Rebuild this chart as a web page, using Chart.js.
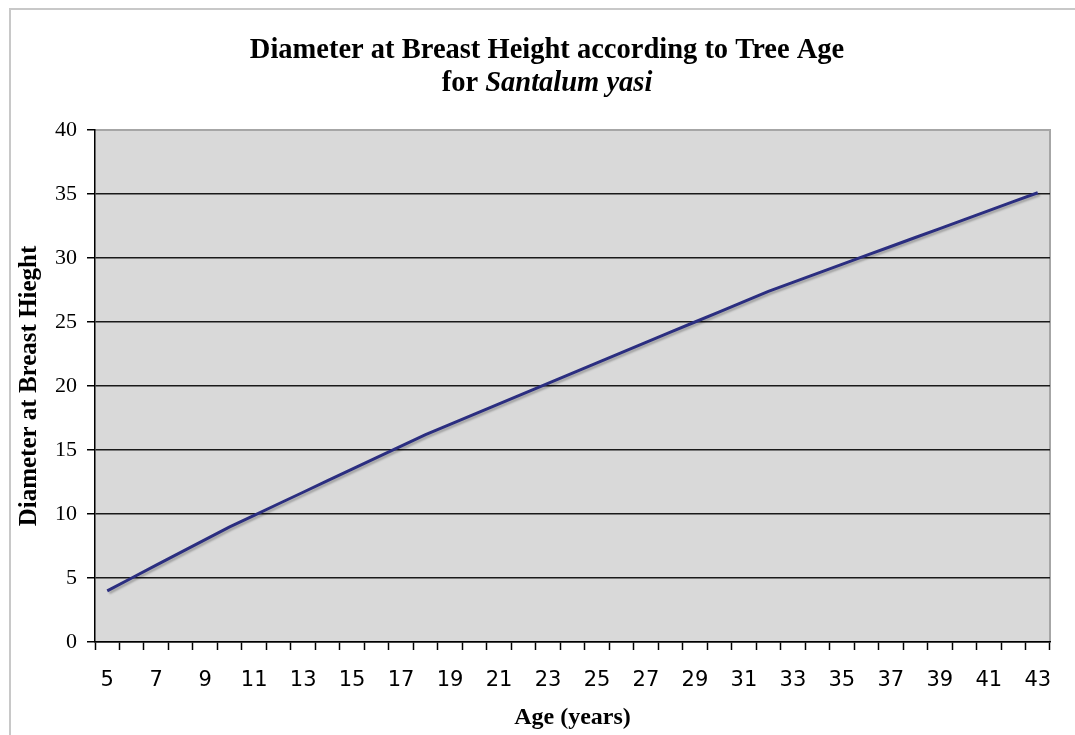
<!DOCTYPE html>
<html>
<head>
<meta charset="utf-8">
<script src="https://cdn.jsdelivr.net/npm/chart.js@4"></script>
<style>
  html, body { margin: 0; padding: 0; background: #fff; }
  #wrap { position: relative; width: 1075px; height: 735px; overflow: hidden; }
  #frame { position: absolute; left: 9px; top: 8px; width: 1100px; height: 800px;
           border-left: 2px solid #c8c8c8; border-top: 2px solid #c8c8c8; }
  canvas { position: absolute; left: 0; top: 0; }
</style>
</head>
<body>
<div id="wrap">
  <div id="frame"></div>
  <canvas id="dbhChart" width="1075" height="735"></canvas>
</div>
<script>
// tree age (years)
const ages = [5, 6, 7, 8, 9, 10, 11, 12, 13, 14, 15, 16, 17, 18, 19, 20, 21, 22, 23, 24,
  25, 26, 27, 28, 29, 30, 31, 32, 33, 34, 35, 36, 37, 38, 39, 40, 41, 42, 43];
// diameter at breast height
const dbh = [4.0, 5.0, 6.0, 7.0, 8.0, 9.0, 9.9, 10.8, 11.7, 12.6, 13.5, 14.4, 15.3, 16.2,
  17.0, 17.8, 18.6, 19.4, 20.2, 21.0, 21.8, 22.6, 23.4, 24.2, 25.0, 25.8, 26.6, 27.4,
  28.1, 28.8, 29.5, 30.2, 30.9, 31.6, 32.3, 33.0, 33.7, 34.4, 35.1];
const yTicks = [0, 5, 10, 15, 20, 25, 30, 35, 40];

const titleLine1 = 'Diameter at Breast Height according to Tree Age';
const titlePre = 'for ';
const titleItalic = 'Santalum yasi';
const serif = '"Liberation Serif", "Times New Roman", serif';

// plot background + right/top border, like the Excel plot area
const plotArea = {
  id: 'plotArea',
  beforeDraw(chart) {
    const { ctx, chartArea: a } = chart;
    ctx.save();
    ctx.fillStyle = '#d9d9d9';
    ctx.fillRect(a.left, a.top, a.right - a.left, a.bottom - a.top);
    ctx.strokeStyle = '#a6a6a6';
    ctx.lineWidth = 2;
    ctx.beginPath();
    ctx.moveTo(a.left, a.top);
    ctx.lineTo(a.right, a.top);
    ctx.lineTo(a.right, a.bottom);
    ctx.stroke();
    ctx.restore();
  },
  afterDraw(chart) {
    // two line title, second line partly italic
    const ctx = chart.ctx;
    const cx = 547;
    ctx.save();
    ctx.fillStyle = '#000';
    ctx.textBaseline = 'alphabetic';
    ctx.textAlign = 'left';
    ctx.font = 'bold 28.5px ' + serif;
    const w1 = ctx.measureText(titleLine1).width;
    ctx.fillText(titleLine1, cx - w1 / 2, 58);
    const wPre = ctx.measureText(titlePre).width;
    ctx.font = 'italic bold 28.5px ' + serif;
    const wIt = ctx.measureText(titleItalic).width;
    const x0 = cx - (wPre + wIt) / 2;
    ctx.font = 'bold 28.5px ' + serif;
    ctx.fillText(titlePre, x0, 91);
    ctx.font = 'italic bold 28.5px ' + serif;
    ctx.fillText(titleItalic, x0 + wPre, 91);
    ctx.restore();
  }
};

const lineShadow = {
  id: 'lineShadow',
  beforeDatasetDraw(chart) {
    const ctx = chart.ctx;
    ctx.save();
    ctx.shadowColor = 'rgba(0,0,0,0.25)';
    ctx.shadowOffsetX = 2;
    ctx.shadowOffsetY = 2;
    ctx.shadowBlur = 2;
  },
  afterDatasetDraw(chart) {
    chart.ctx.restore();
  }
};

const ctx = document.getElementById('dbhChart').getContext('2d');
new Chart(ctx, {
  type: 'line',
  data: {
    labels: ages.map(String),
    datasets: [{
      label: 'DBH',
      data: dbh,
      borderColor: '#2b2e80',
      borderWidth: 3,
      pointRadius: 0,
      tension: 0,
      fill: false
    }]
  },
  options: {
    responsive: false,
    animation: false,
    devicePixelRatio: 1,
    layout: { padding: { top: 130, right: 25, left: 0, bottom: 0 } },
    plugins: {
      legend: { display: false },
      tooltip: { enabled: false },
      title: { display: false }
    },
    scales: {
      x: {
        type: 'category',
        offset: true,
        afterFit(scale) { scale.height = 93; },
        border: { color: '#000', width: 1.5 },
        grid: {
          offset: true,
          drawOnChartArea: false,
          drawTicks: true,
          tickLength: 8,
          tickColor: '#000',
          tickWidth: 1.5
        },
        ticks: {
          autoSkip: false,
          maxRotation: 0,
          padding: 18,
          color: '#000',
          font: { family: '"DejaVu Sans", Verdana, sans-serif', size: 21 },
          callback(val, idx) { return idx % 2 === 0 ? this.getLabelForValue(val) : ''; }
        },
        title: {
          display: true,
          text: 'Age (years)',
          color: '#000',
          font: { family: serif, size: 24, weight: 'bold' },
          padding: { top: 0, bottom: 3 }
        }
      },
      y: {
        min: 0,
        max: 40,
        afterFit(scale) { scale.width = 95; },
        afterBuildTicks(scale) { scale.ticks = yTicks.map(v => ({ value: v })); },
        border: { color: '#000', width: 1.5 },
        grid: {
          color: ctx => ctx.tick && ctx.tick.value === 40 ? '#a6a6a6' : '#1a1a1a',
          lineWidth: 1.5,
          drawTicks: true,
          tickLength: 8,
          tickColor: '#000'
        },
        ticks: {
          padding: 10,
          color: '#000',
          font: { family: serif, size: 22 }
        },
        title: {
          display: true,
          text: 'Diameter at Breast Hieght',
          color: '#000',
          font: { family: serif, size: 25, weight: 'bold' },
          padding: { top: 15, bottom: 0 }
        }
      }
    }
  },
  plugins: [plotArea, lineShadow]
});
</script>
</body>
</html>
